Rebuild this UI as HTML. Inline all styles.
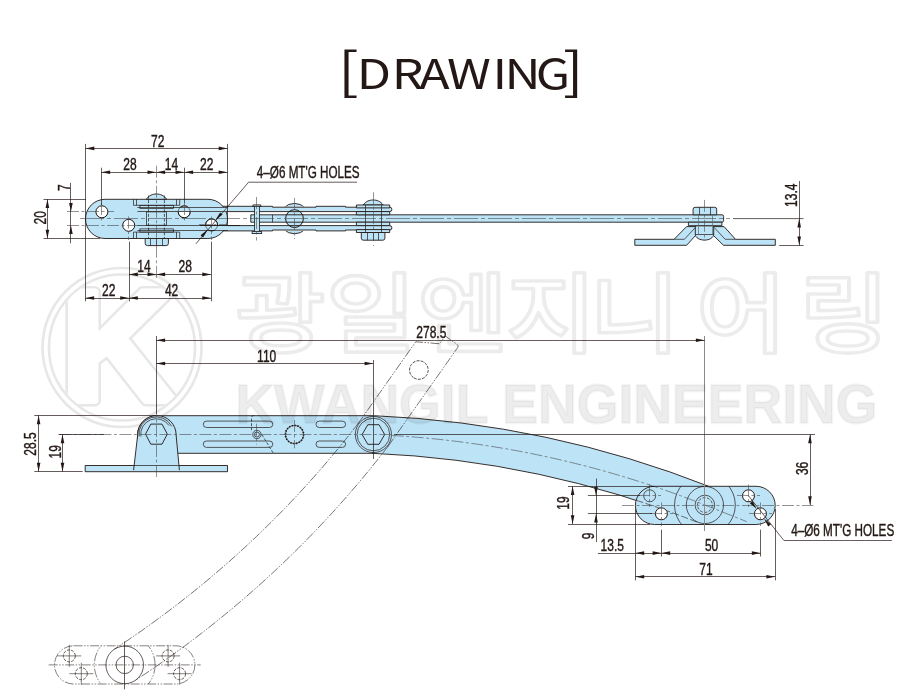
<!DOCTYPE html>
<html lang="ko"><head><meta charset="utf-8"><title>DRAWING</title>
<style>
html,body{margin:0;padding:0;background:#fff}
body{width:921px;height:700px;overflow:hidden;position:relative;font-family:"Liberation Sans",sans-serif}
.ttl{font:400 41.6px "Noto Sans CJK KR","Liberation Sans",sans-serif;fill:#231815}
.br{font-size:50.7px}
svg{position:absolute;left:0;top:0;will-change:transform}
.o{fill:#bde3f7;stroke:#231815;stroke-width:.9;stroke-linejoin:round}
.o2{fill:#bde3f7;stroke:#231815;stroke-width:.8}
.n{fill:none;stroke:#231815;stroke-width:1}
.w{fill:#fff;stroke:#231815;stroke-width:1}
.t5{fill:none;stroke:#231815;stroke-width:.55}
.t8{fill:none;stroke:#231815;stroke-width:.9}
.t{fill:none;stroke:#231815;stroke-width:.7}
.g{fill:none;stroke:#5d6d78;stroke-width:.7}
.g2{fill:none;stroke:#8a8a8a;stroke-width:1}
.cl{fill:none;stroke:#4a4a4a;stroke-width:.6;stroke-dasharray:12 2.5 3 2.5}
.cl2{fill:none;stroke:#4a4a4a;stroke-width:.6;stroke-dasharray:24 3 4 3}
.h2{fill:none;stroke:#231815;stroke-width:.6;stroke-dasharray:7 2.5}
.h{fill:none;stroke:#231815;stroke-width:.7;stroke-dasharray:3 1.6}
.k{fill:none;stroke:#231815;stroke-width:1.7;stroke-dasharray:1.2 1.65}
.p{fill:none;stroke:#231815;stroke-width:.55;stroke-dasharray:9 1.5 1.5 1.5 1.5 1.5}
.p2{fill:none;stroke:#231815;stroke-width:.7;stroke-dasharray:3 1.2}
.ar{fill:#231815;stroke:none}
.d{font:15.7px "Liberation Sans",sans-serif;fill:#231815;stroke:#231815;stroke-width:.4}
.wm{fill:none;stroke:#000;stroke-opacity:.075;stroke-width:3.6;stroke-linejoin:round}
.kl{fill:none;stroke:#e7e7e7;stroke-width:2.6}
.wk{font:bold 156px "Liberation Sans",sans-serif;stroke-linejoin:round}
.k1{fill:#e7e7e7;stroke:#e7e7e7;stroke-width:13.2}
.k2{fill:#fff;stroke:#fff;stroke-width:8}
.wh{font:500 87px "Liberation Sans","Noto Sans CJK KR",sans-serif}
.we{font:bold 56px "Liberation Sans",sans-serif;fill:#000;fill-opacity:.072;stroke:#000;stroke-opacity:.04;stroke-width:2.4;stroke-linejoin:round}
</style></head><body>
<svg width="921" height="700" viewBox="0 0 921 700">
<defs>
<clipPath id="ck"><circle cx="122" cy="347.5" r="71.8"/></clipPath>
<clipPath id="cp"><rect x="635.4" y="486.3" width="139.8" height="38.2" rx="19.1"/></clipPath>
<clipPath id="cq"><rect x="54.5" y="645.8" width="140.4" height="38.2" rx="19.1"/></clipPath>
</defs>
<text class="ttl" transform="scale(1.20,1)"><tspan class="br" x="281.6" y="93">[</tspan><tspan x="297.3 326.5 349.4 372.5 410.4 420.5 446.5" y="88.6">DRAWING</tspan><tspan class="br" x="469.2" y="93">]</tspan></text>
<g id="klogo">
<g class="kl"><circle cx="122" cy="347.5" r="79.5"/><circle cx="122" cy="347.5" r="73"/>
<g clip-path="url(#ck)"><text class="wk k1" x="61.4" y="399.8">K</text><text class="wk k2" x="61.4" y="399.8">K</text></g></g>
</g>
<g id="top">
<circle class="o" cx="294.5" cy="218.6" r="15.2"/>
<rect x="227" y="206.5" width="160" height="24.4" fill="#fff"/>
<circle cx="294.5" cy="218.6" r="8.9" fill="#bde3f7"/>
<path class="o" d="M200,206.3H272.5V207.2H316V206.3H345.5V207.2H389.7Q391.9,207.2 391.9,209.4Q391.9,211.6 389.7,211.6H200Z"/>
<path class="o" d="M200,230.9H272.5V230H316V230.9H345.5V230H389.7Q391.9,230 391.9,227.8Q391.9,225.6 389.7,225.6H200Z"/>
<path class="o" d="M250.8,214.8H722Q723.6,214.8 723.6,216.4V220.6Q723.6,222.2 722,222.2H250.8Z"/>
<path class="t" d="M272.5,214.8V222.2"/>
<circle class="n" cx="294.5" cy="218.6" r="8.9"/>
<rect class="o2" x="254.4" y="205.2" width="5" height="28.2"/>
<rect class="o2" x="253" y="205" width="7.8" height="1.6"/>
<rect class="o2" x="252.1" y="231.6" width="9.6" height="2"/>
<path class="o" d="M363.2,205C366,201.2 369.4,200 373.2,200C377,200 380.4,201.2 383.2,205Z"/>
<rect class="o" x="356.4" y="205" width="33.3" height="2.9"/>
<rect class="o" x="356.4" y="211.6" width="33.3" height="3.2"/>
<rect class="o" x="356.4" y="222.2" width="33.3" height="3.4"/>
<rect class="o" x="356.4" y="229.6" width="33.3" height="2.9"/>
<path class="o" d="M361.3,232.5V238.2Q361.3,240.2 363.3,240.2H382.9Q384.9,240.2 384.9,238.2V232.5Z"/>
<path class="t" d="M367.5,232.5V240.2M373.5,232.5V240.2M378.5,232.5V240.2"/>
<path class="t" d="M365.5,205.0V232.5M381.5,205.0V232.5"/>
<rect class="o" x="85.5" y="199.3" width="142" height="39.2" rx="19.6"/>
<circle class="w" cx="101.9" cy="211.8" r="6"/>
<circle class="w" cx="128.7" cy="225.3" r="6"/>
<circle class="w" cx="184.2" cy="211.8" r="6"/>
<circle class="w" cx="211.6" cy="224.9" r="6"/>
<rect x="137.4" y="207.2" width="90.6" height="4.4" fill="#bde3f7"/><rect x="137.4" y="225.5" width="90.6" height="4.5" fill="#bde3f7"/>
<path class="t" d="M137.4,207.5H228M137.4,211.5H228M137.4,225.5H228M137.4,230.5H228"/>
<path class="o" style="fill:none" d="M200,225.5H240"/>
<circle class="t5" cx="184.2" cy="211.8" r="6"/><circle class="t5" cx="211.6" cy="224.9" r="6"/>
<path class="o" d="M146.3,199.3C149,195.4 152.4,194 156.4,194C160.4,194 164,195.4 166.6,199.3Z"/>
<path class="t" d="M133.5,199.3V205.3H179.7V199.3M136.5,199.3V205.3M176.5,199.3V205.3"/>
<path class="t" d="M133.5,238.5V232.1H179.7V238.5M136.5,232.1V238.5M176.5,232.1V238.5"/>
<rect class="t" x="139.9" y="205.3" width="33.6" height="3.2"/>
<rect class="t" x="139.9" y="228.9" width="33.6" height="3.2"/>
<rect class="t" x="146.5" y="211.9" width="20" height="13.3" stroke-width="1"/>
<path class="h" d="M148.5,195.5V244M164.4,195.5V244"/>
<path class="o" d="M145.2,238.5V243.4Q145.2,245.6 147.4,245.6H166.2Q168.4,245.6 168.4,243.4V238.5Z"/>
<path class="t" d="M150.5,238.5V245.6M156.5,238.5V245.6M162.5,238.5V245.6"/>
<path class="o" d="M634.8,239.3H674.1L686.6,226.6H724.1L735.5,239.3H775.3V245.3H723.5L713.2,235.2H695.8L686.6,245.3H634.8Z"/>
<path class="t" d="M674.1,239.3H684.4L695.3,227.6M735.5,239.3H725.2L714.3,227.6"/>
<path d="M696.5,235.6H712.6L722,245.9H688Z" fill="#fff"/>
<path class="o" d="M695.3,225.7V234.1C695.3,238 700,240.1 704.5,240.1C709,240.1 713.7,238 713.7,234.1V225.7Z"/>
<path class="t" d="M695.3,234.5H713.7"/>
<rect class="o" x="688.4" y="222.2" width="33.5" height="3.5"/>
<path class="o" d="M693.1,214.8V209.3Q693.1,207.3 695.1,207.3H714.7Q716.7,207.3 716.7,209.3V214.8Z"/>
<path class="t" d="M699.5,207.3V214.8M710.5,207.3V214.8"/>
<path class="g" d="M698.5,214.8V234M712.5,214.8V234"/>
<path class="cl2" d="M80.0,218.5H730"/>
<path class="t" stroke="#777" d="M733,218.6H803.5"/>
<path class="cl" d="M156.5,165.8V278"/>
<path class="cl" d="M67.0,211.5H114M67.0,225.5H141M172.0,211.5H227M199.0,224.5H227"/>
<path class="cl" d="M101.5,203.0V221M128.5,216.5V240M184.5,203.0V221M211.5,216.5V240"/>
<path class="cl" d="M256.5,197.0V240.5M294.5,198.0V239M373.5,192.2V241M373.5,245.0V246M704.5,199.9V240.6"/>
</g>
<g id="side">
<rect class="o" x="85.2" y="465.5" width="142.3" height="6.2"/>
<path class="o" d="M137.6,434.5 A18.8,18.8 0 0 1 156.4,415.7 H373.4 L374.2,415.7 A1034.3,1034.3 0 0 1 711.8,487.5 A18.8,18.8 0 0 1 698.0,522.5 A996.7,996.7 0 0 0 372.6,453.3 L373.4,453.3 H137.6 Z"/>
<path class="o" d="M133.6,470.2L137.7,434.8A19.2,19.2 0 0 1 176.1,434.8L179.4,470.2"/>
<path class="t" d="M133.6,465.5H179.4"/>
<path class="t" d="M139.1,436.5A17.3,17.3 0 0 1 171.7,426.4"/>
<path class="t" d="M140.9,436.5A15.5,15.5 0 0 1 169.1,425.6"/>
<polygon class="o" points="145.5,434.1 150.8,424.1 162,424.1 167.3,434.1 162,444.2 150.8,444.2"/>
<rect class="t" x="203.3" y="421.1" width="69.5" height="6.4" rx="3.25" stroke-width=".9"/>
<rect class="t" x="203.3" y="441.0" width="69.5" height="6.4" rx="3.25" stroke-width=".9"/>
<rect class="t" x="316.0" y="421.1" width="29.6" height="6.4" rx="3.25" stroke-width=".9"/>
<rect class="t" x="316.0" y="441.0" width="29.6" height="6.4" rx="3.25" stroke-width=".9"/>
<circle class="t" cx="256.9" cy="434.5" r="4.2"/><circle class="t" cx="256.9" cy="434.5" r="2.5"/>
<path class="h" d="M254,415.4Q251.5,415.6 251.5,418V430.2M261.9,434.6L273.2,453"/>
<circle class="t" cx="294.5" cy="434.5" r="9.1"/><circle class="k" cx="294.5" cy="434.5" r="9.1"/>
<circle class="t" cx="373.4" cy="434.5" r="18.1"/><circle class="t" cx="373.4" cy="434.5" r="16.3"/>
<polygon class="t8" points="384.7,434.5 379.0,444.3 367.8,444.3 362.1,434.5 367.8,424.7 379.0,424.7"/>
<rect class="o" x="635.4" y="486.3" width="139.8" height="38.2" rx="19.1"/>
<path class="h2" d="M636.5,500.4 A996.7,996.7 0 0 1 698.0,522.5" clip-path="url(#cp)"/>
<circle class="t" cx="704.9" cy="505" r="18.6"/><circle class="t" cx="704.9" cy="505" r="9.8"/><circle class="h" cx="704.9" cy="505" r="7.4"/>
<circle class="t" cx="704.9" cy="505" r="30.4" clip-path="url(#cp)"/>
<circle class="t" cx="649.7" cy="495.8" r="6"/>
<circle class="w" cx="661.4" cy="513.8" r="6"/>
<circle class="w" cx="748.5" cy="495.8" r="6"/>
<circle class="w" cx="760.4" cy="513.8" r="6"/>
<path class="cl" d="M59.4,434.5H394"/>
<path class="t" d="M156.5,336.0V414"/>
<path class="cl" d="M156.5,405.0V477.4"/>
<path class="cl" d="M256.5,423.7V444.5M294.5,420.0V448.3"/>
<path class="t" d="M373.5,360.0V459"/>
<path class="cl" d="M391.7,435.4 A1015.5,1015.5 0 0 1 704.9,505.0 L746.7,521.6"/>
<path class="cl" d="M622.0,505.5H813.4"/>
<path class="g2" d="M704.5,336.0V531"/>
<path class="cl" d="M638.0,495.5H661M650.0,513.5H673M737.0,495.5H760M749.0,513.5H772M649.5,484.5V507M661.5,502.5V526M748.5,484.5V507M760.5,502.5V526"/>
</g>
<g id="phantom">
<g transform="rotate(125.18 373.4 434.5)">
<path class="p" d="M374.2,415.7 A1034.3,1034.3 0 0 1 711.8,487.5 M372.6,453.3 A996.7,996.7 0 0 1 698.0,522.5"/>
<path class="p" d="M374.4,415.7 H254 Q251.5,415.7 251.5,418 V432.5 H261 L273.2,453.3 H373.4"/>
<circle class="p2" cx="294.5" cy="434.5" r="9.3"/>
</g>
<rect class="p" x="54.5" y="645.8" width="140.4" height="38.2" rx="19.1"/>
<circle class="t" cx="124.7" cy="664.9" r="8.7" stroke-width="1"/><circle class="t" cx="124.7" cy="664.9" r="18.8"/>
<circle class="p" cx="124.7" cy="664.9" r="30.4" clip-path="url(#cq)"/>
<circle class="p2" cx="69.3" cy="655.9" r="6"/>
<path class="t5" d="M57.3,655.9H81.3M69.3,644.9V666.9"/>
<circle class="p2" cx="81.3" cy="673.7" r="6"/>
<path class="t5" d="M69.3,673.7H93.3M81.3,662.7V684.7"/>
<circle class="p2" cx="168.1" cy="655.9" r="6"/>
<path class="t5" d="M156.1,655.9H180.1M168.1,644.9V666.9"/>
<circle class="p2" cx="179.6" cy="673.7" r="6"/>
<path class="t5" d="M167.6,673.7H191.6M179.6,662.7V684.7"/>
<path class="p" d="M48.7,664.9H200.7"/>
<path class="t" d="M124.5,641.5V689.3"/>
</g>
<g id="dims">
<path class="t" d="M85.5,143.9V301.3M227.5,143.9V225.4M101.5,167.7V205M184.5,167.7V203M129.5,241.7V301.3M211.5,241.7V301.3"/>
<path class="t" d="M85.5,148.5H227.5"/><polygon class="ar" points="85.5,148.4 94.3,146.6 94.3,150.2"/><polygon class="ar" points="227.5,148.4 218.7,150.2 218.7,146.6"/>
<text class="d" text-anchor="middle" transform="translate(157.8,146.5) scale(0.766,1)">72</text>
<path class="t" d="M101.3,172.5H156.3"/><polygon class="ar" points="101.3,172.3 110.1,170.5 110.1,174.1"/><polygon class="ar" points="156.3,172.3 147.5,174.1 147.5,170.5"/>
<path class="t" d="M156.3,172.5H184.3"/><polygon class="ar" points="156.3,172.3 165.1,170.5 165.1,174.1"/><polygon class="ar" points="184.3,172.3 175.5,174.1 175.5,170.5"/>
<path class="t" d="M184.3,172.5H227.5"/><polygon class="ar" points="184.3,172.3 193.1,170.5 193.1,174.1"/><polygon class="ar" points="227.5,172.3 218.7,174.1 218.7,170.5"/>
<text class="d" text-anchor="middle" transform="translate(129.9,169.9) scale(0.766,1)">28</text>
<text class="d" text-anchor="middle" transform="translate(171.4,169.9) scale(0.766,1)">14</text>
<text class="d" text-anchor="middle" transform="translate(206.8,169.9) scale(0.766,1)">22</text>
<path class="t" d="M129.0,274.5H156.3"/><polygon class="ar" points="129.0,274.4 137.8,272.6 137.8,276.2"/><polygon class="ar" points="156.3,274.4 147.5,276.2 147.5,272.6"/>
<path class="t" d="M156.3,274.5H211.1"/><polygon class="ar" points="156.3,274.4 165.1,272.6 165.1,276.2"/><polygon class="ar" points="211.1,274.4 202.3,276.2 202.3,272.6"/>
<text class="d" text-anchor="middle" transform="translate(143.9,272.0) scale(0.766,1)">14</text>
<text class="d" text-anchor="middle" transform="translate(185.3,272.0) scale(0.766,1)">28</text>
<path class="t" d="M85.3,298.5H129.0"/><polygon class="ar" points="85.3,298.0 94.1,296.2 94.1,299.8"/><polygon class="ar" points="129.0,298.0 120.2,299.8 120.2,296.2"/>
<path class="t" d="M129.0,298.5H211.1"/><polygon class="ar" points="129.0,298.0 137.8,296.2 137.8,299.8"/><polygon class="ar" points="211.1,298.0 202.3,299.8 202.3,296.2"/>
<text class="d" text-anchor="middle" transform="translate(108.7,295.6) scale(0.766,1)">22</text>
<text class="d" text-anchor="middle" transform="translate(171.6,295.6) scale(0.766,1)">42</text>
<path class="t" d="M43.5,199.5H86M43.5,238.5H100"/>
<path class="t" d="M47.5,199.3V238.5"/><polygon class="ar" points="47.4,199.3 49.2,208.1 45.6,208.1"/><polygon class="ar" points="47.4,238.5 45.6,229.7 49.2,229.7"/>
<text class="d" text-anchor="middle" transform="translate(46.0,217.8) rotate(-90) scale(0.766,1)">20</text>
<path class="t" d="M70.5,182.9V243.3"/>
<polygon class="ar" points="70.9,211.8 69.1,203.0 72.7,203.0"/><polygon class="ar" points="70.9,225.3 72.7,234.1 69.1,234.1"/>
<text class="d" text-anchor="middle" transform="translate(69.6,187.6) rotate(-90) scale(0.766,1)">7</text>
<path class="t" d="M357.1,182.2H248.6L195.9,243.8"/>
<polygon class="ar" points="215.2,220.6 220.1,212.4 222.6,214.6"/><polygon class="ar" points="208.0,229.2 203.1,237.4 200.6,235.2"/>
<text textLength="134.3" lengthAdjust="spacingAndGlyphs" class="d" text-anchor="start" transform="translate(256.8,177.9) scale(0.766,1)">4–Ø6 MT'G HOLES</text>
<path class="t" d="M779.2,245.5H803.5"/>
<path class="t" d="M799.5,181.0V245.3"/>
<polygon class="ar" points="799.2,218.6 801.0,227.4 797.4,227.4"/><polygon class="ar" points="799.2,245.3 797.4,236.5 801.0,236.5"/>
<text class="d" text-anchor="middle" transform="translate(797.0,195.2) rotate(-90) scale(0.766,1)">13.4</text>
<path class="t" d="M34.3,415.5H156M34.3,471.5H82.6M58.5,434.5H104"/>
<path class="t" d="M38.5,415.4V471.6"/><polygon class="ar" points="38.6,415.4 40.4,424.2 36.8,424.2"/><polygon class="ar" points="38.6,471.6 36.8,462.8 40.4,462.8"/>
<text class="d" text-anchor="middle" transform="translate(36.2,444.0) rotate(-90) scale(0.766,1)">28.5</text>
<path class="t" d="M62.5,434.5V471.6"/><polygon class="ar" points="62.5,434.5 64.3,443.3 60.7,443.3"/><polygon class="ar" points="62.5,471.6 60.7,462.8 64.3,462.8"/>
<text class="d" text-anchor="middle" transform="translate(60.8,451.7) rotate(-90) scale(0.766,1)">19</text>
<path class="t" d="M156.3,340.5H704.7"/><polygon class="ar" points="156.3,340.2 165.1,338.4 165.1,342.0"/><polygon class="ar" points="704.7,340.2 695.9,342.0 695.9,338.4"/>
<text class="d" text-anchor="middle" transform="translate(431.3,337.9) scale(0.766,1)">278.5</text>
<path class="t" d="M156.3,363.5H373.4"/><polygon class="ar" points="156.3,363.5 165.1,361.7 165.1,365.3"/><polygon class="ar" points="373.4,363.5 364.6,365.3 364.6,361.7"/>
<text class="d" text-anchor="middle" transform="translate(266.7,361.6) scale(0.766,1)">110</text>
<path class="t" d="M394.0,434.5H815"/>
<path class="t" d="M810.5,434.4V505.0"/><polygon class="ar" points="810.0,434.4 811.8,443.2 808.2,443.2"/><polygon class="ar" points="810.0,505.0 808.2,496.2 811.8,496.2"/>
<text class="d" text-anchor="middle" transform="translate(808.0,468.4) rotate(-90) scale(0.766,1)">36</text>
<path class="t" d="M568.0,486.5H655M568.0,524.5H650M587.9,495.5H640M587.9,513.5H652"/>
<path class="t" d="M572.5,486.3V524.0"/><polygon class="ar" points="572.6,486.3 574.4,495.1 570.8,495.1"/><polygon class="ar" points="572.6,524.0 570.8,515.2 574.4,515.2"/>
<text class="d" text-anchor="middle" transform="translate(569.3,503.0) rotate(-90) scale(0.766,1)">19</text>
<path class="t" d="M596.5,478.6V542.1"/>
<polygon class="ar" points="596.0,495.8 594.2,487.0 597.8,487.0"/><polygon class="ar" points="596.0,513.8 597.8,522.6 594.2,522.6"/>
<text class="d" text-anchor="middle" transform="translate(594.4,536.0) rotate(-90) scale(0.766,1)">9</text>
<path class="t" d="M635.5,509.0V580.4M775.5,509.0V580.4M661.5,529.7V556.5M760.5,529.7V556.5"/>
<path class="t" d="M597.9,553.5H635.4"/>
<path class="t" d="M635.4,553.5H661.4"/><polygon class="ar" points="635.4,553.1 644.2,551.3 644.2,554.9"/><polygon class="ar" points="661.4,553.1 652.6,554.9 652.6,551.3"/>
<path class="t" d="M661.4,553.5H760.6"/><polygon class="ar" points="661.4,553.1 670.2,551.3 670.2,554.9"/><polygon class="ar" points="760.6,553.1 751.8,554.9 751.8,551.3"/>
<text class="d" text-anchor="middle" transform="translate(612.3,550.5) scale(0.766,1)">13.5</text>
<text class="d" text-anchor="middle" transform="translate(711.6,550.5) scale(0.766,1)">50</text>
<path class="t" d="M635.4,576.5H775.2"/><polygon class="ar" points="635.4,576.8 644.2,575.0 644.2,578.6"/><polygon class="ar" points="775.2,576.8 766.4,578.6 766.4,575.0"/>
<text class="d" text-anchor="middle" transform="translate(705.9,574.7) scale(0.766,1)">71</text>
<path class="t" d="M891.8,540.5H783.9L748.7,496"/>
<polygon class="ar" points="756.7,509.1 749.8,503.3 752.6,501.1"/><polygon class="ar" points="764.1,518.5 771.0,524.3 768.2,526.5"/>
<text textLength="134.5" lengthAdjust="spacingAndGlyphs" class="d" text-anchor="start" transform="translate(791.2,536.3) scale(0.766,1)">4–Ø6 MT'G HOLES</text>
</g>
<g id="watermark">
<g class="wm">
<text class="wh" transform="scale(1.13,1)" x="208.1 288.5 369.6 447.9 521.6 616.0 707.0" y="345.6">광일엔지니어링</text>
</g>
<text class="we" x="235.4" y="423.3" textLength="642" lengthAdjust="spacingAndGlyphs">KWANGIL ENGINEERING</text>
</g>
</svg>
</body></html>
